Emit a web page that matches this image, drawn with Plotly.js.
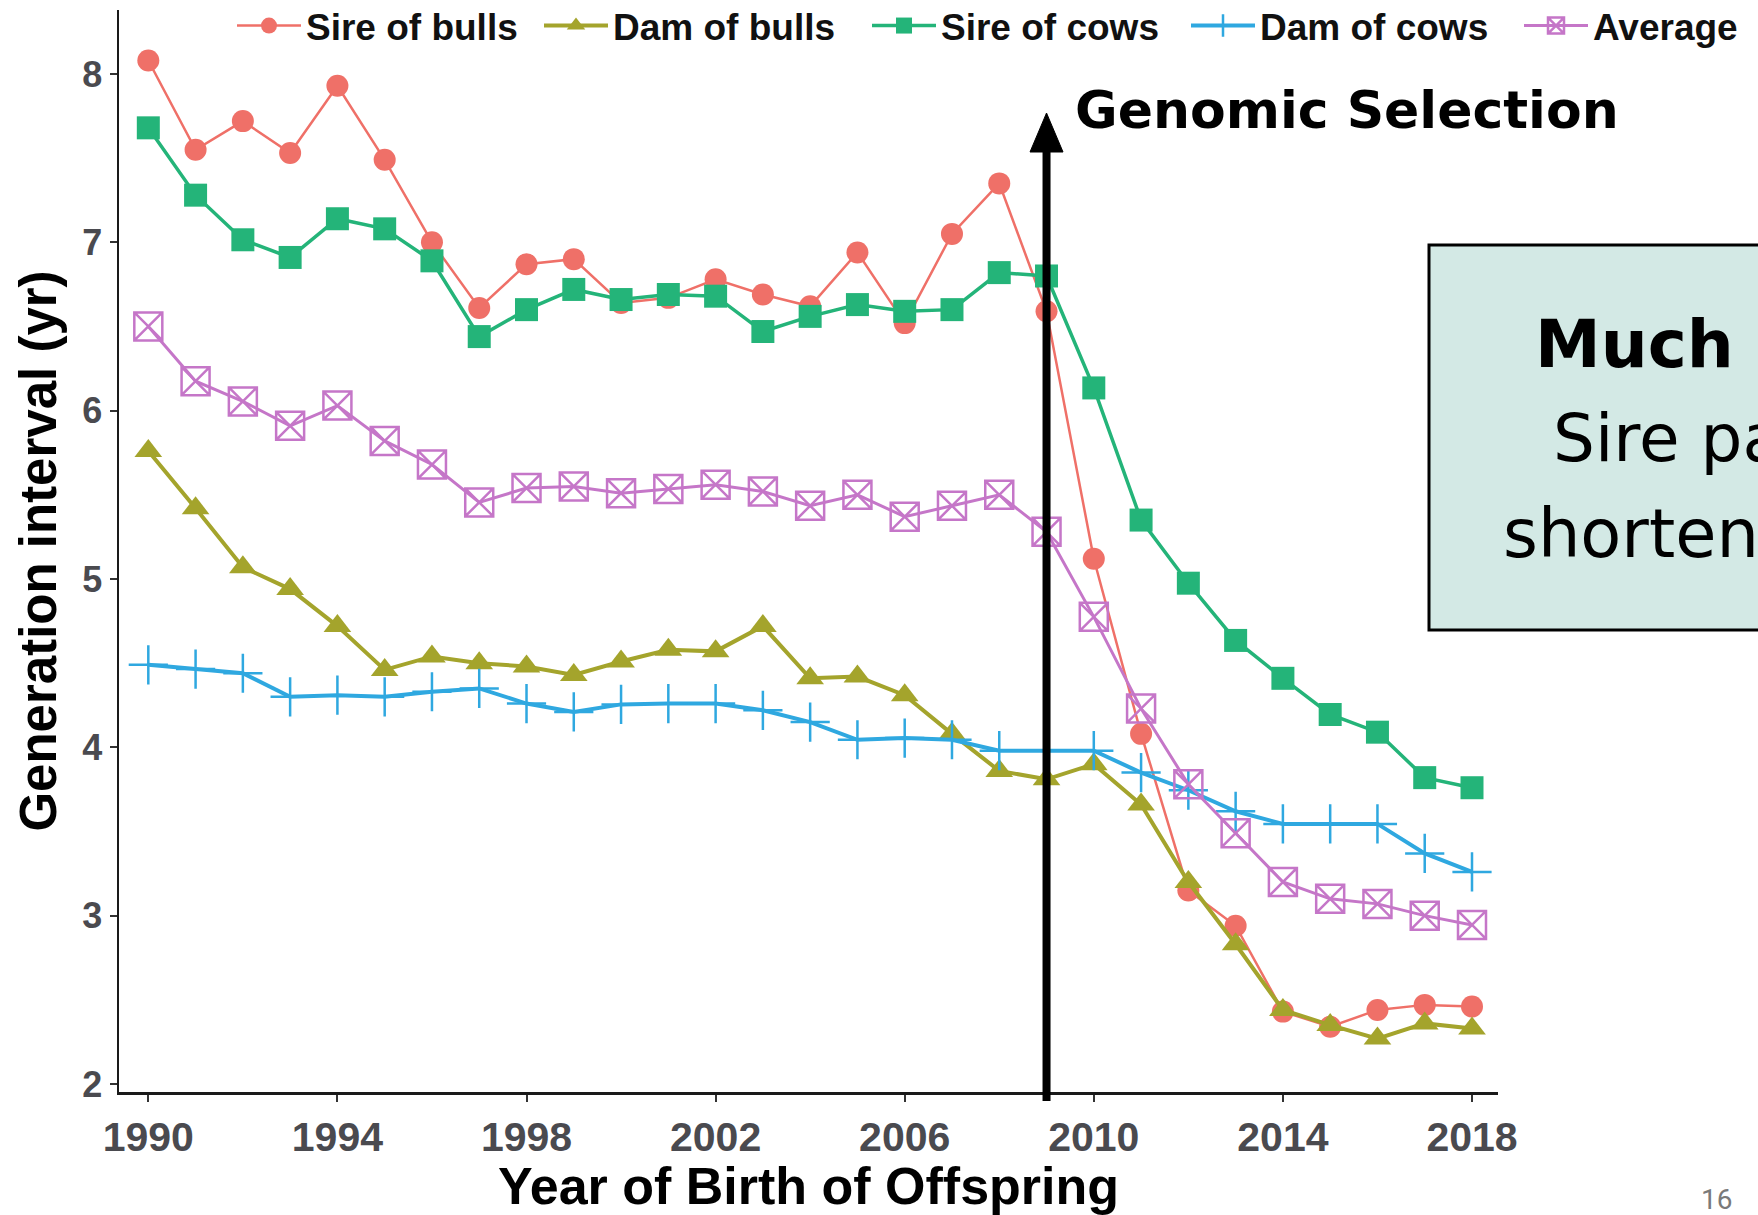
<!DOCTYPE html>
<html>
<head>
<meta charset="utf-8">
<script src="https://cdn.plot.ly/plotly-3.0.1.min.js"></script>
<style>
html,body{margin:0;padding:0;overflow:hidden;background:#ffffff;}
#chart{width:1758px;height:1215px;}
</style>
</head>
<body>
<div id="chart"></div>
<script>
// ---------------- data ----------------
const years = [1990,1991,1992,1993,1994,1995,1996,1997,1998,1999,2000,2001,2002,2003,2004,2005,2006,2007,2008,2009,2010,2011,2012,2013,2014,2015,2016,2017,2018];
const sireOfBulls = [8.08,7.55,7.72,7.53,7.93,7.49,7.00,6.61,6.87,6.90,6.64,6.67,6.78,6.69,6.62,6.94,6.52,7.05,7.35,6.59,5.12,4.08,3.15,2.94,2.43,2.34,2.44,2.47,2.46];
const damOfBulls  = [5.76,5.42,5.07,4.94,4.72,4.46,4.54,4.50,4.48,4.43,4.51,4.58,4.57,4.72,4.41,4.42,4.31,4.08,3.86,3.81,3.90,3.66,3.20,2.83,2.44,2.35,2.27,2.36,2.33];
const sireOfCows  = [7.68,7.28,7.015,6.91,7.14,7.08,6.89,6.44,6.60,6.72,6.66,6.69,6.68,6.47,6.56,6.63,6.59,6.60,6.82,6.80,6.135,5.35,4.975,4.635,4.41,4.195,4.09,3.82,3.76];
const damOfCows   = [4.49,4.465,4.44,4.30,4.31,4.30,4.33,4.35,4.26,4.21,4.255,4.26,4.26,4.22,4.15,4.045,4.055,4.045,3.98,3.98,3.98,3.85,3.745,3.62,3.545,3.545,3.545,3.37,3.26];
const average     = [6.50,6.175,6.055,5.91,6.03,5.82,5.68,5.455,5.54,5.55,5.51,5.535,5.56,5.52,5.435,5.50,5.37,5.435,5.50,5.28,4.775,4.23,3.78,3.49,3.20,3.10,3.07,3.00,2.945];

const seriesNames = ["Sire of bulls","Dam of bulls","Sire of cows","Dam of cows","Average"];
const xTickVals = [1990,1994,1998,2002,2006,2010,2014,2018];
const yTickVals = [2,3,4,5,6,7,8];
const genomicYear = 2009;
const xTitle = "Year of Birth of Offspring";
const yTitle = "Generation interval (yr)";
const arrowLabel = "Genomic Selection";
const boxLines = ["Much s", "Sire pa", "shorten"];
const pageNumber = "16";

// ---------------- geometry helpers ----------------
const W = 1758, H = 1215;
const M = {l:119, r:260, t:10, b:123};
const plotW = W - M.l - M.r;
const plotH = H - M.t - M.b;
const px = x => (x - M.l) / plotW;          // pixel -> paper x
const py = y => (H - M.b - y) / plotH;      // pixel -> paper y
const xRange = [1989.38, 2018.55];
const yRange = [1.9525, 8.38];
const xp = yr => (yr - xRange[0]) / (xRange[1] - xRange[0]);

const colors = ["#EF7068", "#A4A42C", "#24B479", "#2FA8E0", "#C576C8"];

const traces = [
  {x: years, y: sireOfBulls, name: seriesNames[0], mode: "lines+markers", legend: "legend", legendwidth: 228,
   line: {color: colors[0], width: 2.5},
   marker: {symbol: "circle", size: 22, color: colors[0]}},
  {x: years, y: damOfBulls, name: seriesNames[1], mode: "lines+markers", legend: "legend", legendwidth: 249,
   line: {color: colors[1], width: 4},
   marker: {symbol: "triangle-up", size: 24, color: colors[1]}},
  {x: years, y: sireOfCows, name: seriesNames[2], mode: "lines+markers", legend: "legend",
   line: {color: colors[2], width: 3.5},
   marker: {symbol: "square", size: 23, color: colors[2]}},
  {x: years, y: damOfCows, name: seriesNames[3], mode: "lines+markers", legend: "legend2", legendwidth: 254,
   line: {color: colors[3], width: 4},
   marker: {symbol: "cross-thin-open", size: 28, color: colors[3], line: {color: colors[3], width: 2.5}}},
  {x: years, y: average, name: seriesNames[4], mode: "lines+markers", legend: "legend2",
   line: {color: colors[4], width: 3},
   marker: {symbol: "square-x-open", size: 28, color: colors[4], line: {color: colors[4], width: 2.5}}}
];

const axisFont = "Liberation Sans, Arial, sans-serif";
const slideFont = "DejaVu Sans, sans-serif";
const legendCommon = {
  orientation: "h", xanchor: "left", yanchor: "middle",
  font: {family: axisFont, size: 37, weight: "bold", color: "#111111"},
  itemwidth: 64, bgcolor: "rgba(0,0,0,0)", borderwidth: 0,
  itemclick: false, itemdoubleclick: false
};

const layout = {
  width: W, height: H,
  margin: {l: M.l, r: M.r, t: M.t, b: M.b, pad: 0, autoexpand: false},
  paper_bgcolor: "#ffffff", plot_bgcolor: "#ffffff",
  showlegend: true,
  legend: Object.assign({}, legendCommon, {x: px(232), y: py(26)}),
  legend2: Object.assign({}, legendCommon, {x: px(1186), y: py(26)}),
  xaxis: {
    range: xRange, autorange: false, tickvals: xTickVals,
    showgrid: false, zeroline: false,
    showline: true, linecolor: "#1a1a1a", linewidth: 2.5,
    ticks: "outside", ticklen: 7, tickwidth: 2, tickcolor: "#333333",
    tickfont: {family: axisFont, size: 41, weight: "bold", color: "#4a4a4f"},
    title: {text: xTitle, font: {family: axisFont, size: 52, weight: "bold", color: "#000000"}, standoff: 17}
  },
  yaxis: {
    range: yRange, autorange: false, tickvals: yTickVals,
    showgrid: false, zeroline: false,
    showline: true, linecolor: "#1a1a1a", linewidth: 2.5,
    ticks: "outside", ticklen: 7, tickwidth: 2, tickcolor: "#333333",
    tickfont: {family: axisFont, size: 36, weight: "bold", color: "#4a4a4f"},
    title: {text: yTitle, font: {family: axisFont, size: 51, weight: "bold", color: "#000000"}, standoff: 10}
  },
  shapes: [
    // text box (extends past the right edge, clipped)
    {type: "rect", xref: "paper", yref: "paper", layer: "above",
     x0: px(1429), x1: px(1830), y0: py(630), y1: py(245),
     fillcolor: "#D3E9E5", line: {color: "#000000", width: 3}},
    // arrow shaft
    {type: "line", xref: "paper", yref: "paper", layer: "above",
     x0: xp(genomicYear), x1: xp(genomicYear), y0: py(1101), y1: py(148),
     line: {color: "#000000", width: 8}},
    // arrow head
    {type: "path", xref: "paper", yref: "paper", layer: "above",
     path: "M " + (xp(genomicYear) - 16.5/plotW) + " " + py(152) +
           " L " + (xp(genomicYear) + 16.5/plotW) + " " + py(152) +
           " L " + xp(genomicYear) + " " + py(113) + " Z",
     fillcolor: "#000000", line: {color: "#000000", width: 1}}
  ],
  annotations: [
    {text: "<b>" + arrowLabel + "</b>", xref: "paper", yref: "paper", x: px(1073), y: py(110),
     xanchor: "left", yanchor: "middle", showarrow: false,
     font: {family: slideFont, size: 52, color: "#000000"}},
    {text: "<b>" + boxLines[0] + "</b>", xref: "paper", yref: "paper", x: px(1533), y: py(344),
     xanchor: "left", yanchor: "middle", showarrow: false,
     font: {family: slideFont, size: 66, color: "#000000"}},
    {text: boxLines[1], xref: "paper", yref: "paper", x: px(1551), y: py(438),
     xanchor: "left", yanchor: "middle", showarrow: false,
     font: {family: slideFont, size: 66, color: "#000000"}},
    {text: boxLines[2], xref: "paper", yref: "paper", x: px(1501), y: py(534),
     xanchor: "left", yanchor: "middle", showarrow: false,
     font: {family: slideFont, size: 67, color: "#000000"}},
    {text: pageNumber, xref: "paper", yref: "paper", x: px(1716), y: py(1199),
     xanchor: "center", yanchor: "middle", showarrow: false,
     font: {family: "Roboto, sans-serif", size: 28, color: "#7a7a7a"}}
  ]
};

Plotly.newPlot("chart", traces, layout, {displayModeBar: false, staticPlot: true});
</script>
</body>
</html>
